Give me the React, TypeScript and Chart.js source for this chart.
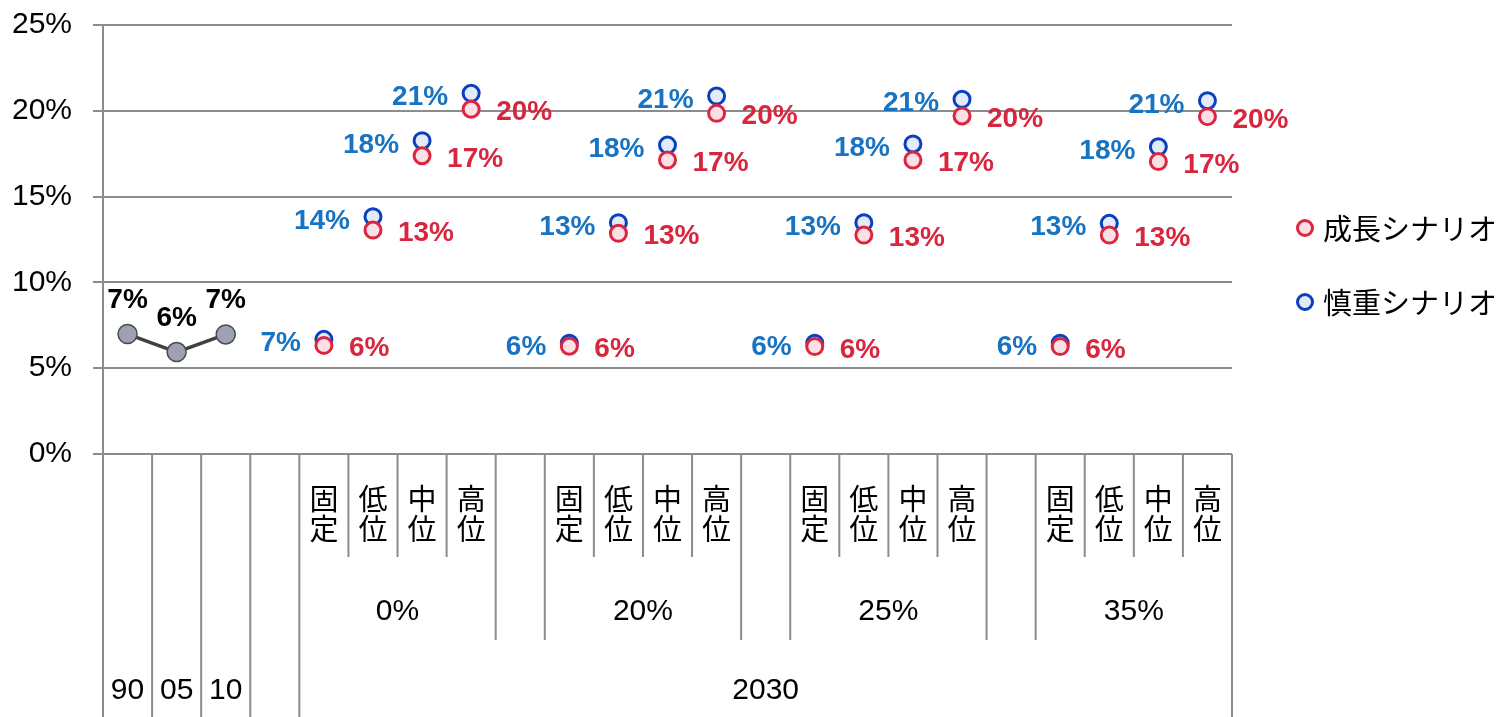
import React, { useEffect, useRef } from "react";
import { Chart, registerables } from "chart.js";

Chart.register(...registerables);

// ---- data ----
const level1 = ["", "", "", "", "固定", "低位", "中位", "高位", "", "固定", "低位", "中位", "高位", "", "固定", "低位", "中位", "高位", "", "固定", "低位", "中位", "高位"];
const level2 = ["", "", "", "", "0%", "0%", "0%", "0%", "", "20%", "20%", "20%", "20%", "", "25%", "25%", "25%", "25%", "", "35%", "35%", "35%", "35%"];
const level3 = ["90", "05", "10", "", "2030", "2030", "2030", "2030", "2030", "2030", "2030", "2030", "2030", "2030", "2030", "2030", "2030", "2030", "2030", "2030", "2030", "2030", "2030"];

const historyValues = [0.0699, 0.0594, 0.0697, null, null, null, null, null, null, null, null, null, null, null, null, null, null, null, null, null, null, null, null];
const growthValues = [null, null, null, null, 0.0633, 0.1305, 0.1738, 0.2009, null, 0.0628, 0.1286, 0.1713, 0.1985, null, 0.0626, 0.1276, 0.1713, 0.1970, null, 0.0626, 0.1276, 0.1704, 0.1966];
const cautiousValues = [null, null, null, null, 0.0668, 0.1383, 0.1826, 0.2102, null, 0.0646, 0.1348, 0.1800, 0.2086, null, 0.0646, 0.1348, 0.1807, 0.2067, null, 0.0646, 0.1344, 0.1790, 0.2059];

const seriesNames = ["成長シナリオ", "慎重シナリオ"];
const yTicks = [0, 0.05, 0.1, 0.15, 0.2, 0.25];

const FONT = '"Liberation Sans", Arial, "Noto Sans CJK JP", sans-serif';
const CJK = '"Noto Sans CJK JP", "Liberation Sans", sans-serif';
const GRID = "#8c8c8c";
const RED = "#dc2540";
const RED_FILL = "#fbe1e6";
const RED_TEXT = "#d8263f";
const BLUE = "#0a3fc0";
const BLUE_FILL = "#e2ecf8";
const BLUE_TEXT = "#1874c2";

const pct = (v: number) => Math.round(v * 100) + "%";

function runs(arr: string[]) {
  const out: { label: string; from: number; to: number }[] = [];
  arr.forEach((l, i) => {
    const last = out[out.length - 1];
    if (last && l !== "" && last.label === l && last.to === i - 1) last.to = i;
    else out.push({ label: l, from: i, to: i });
  });
  return out;
}

const multiAxisPlugin = {
  id: "multiAxis",
  afterDraw(chart: any) {
    const { ctx, chartArea } = chart;
    const xs = chart.scales.x;
    const n = level1.length;
    const w = (chartArea.right - chartArea.left) / n;
    const bx = (k: number) => chartArea.left + k * w;
    const cx = (i: number) => xs.getPixelForValue(i);
    const b = chartArea.bottom;
    const bottom = chart.height;
    ctx.save();
    ctx.strokeStyle = GRID;
    ctx.lineWidth = 2;
    for (let k = 0; k <= n; k++) {
      let end = bottom;
      if (k > 0 && k < n) {
        const a = k - 1, c = k;
        const topDiff = level3[a] !== level3[c] || level3[a] === "" || level3[c] === "";
        const midDiff = level2[a] !== level2[c] || level2[a] === "" || level2[c] === "";
        if (topDiff) end = bottom;
        else if (midDiff) end = b + 186;
        else end = b + 103;
      }
      ctx.beginPath();
      ctx.moveTo(bx(k), b);
      ctx.lineTo(bx(k), end);
      ctx.stroke();
    }
    ctx.fillStyle = "#000";
    ctx.textAlign = "center";
    // level 1 (vertical CJK)
    ctx.font = "29px " + CJK;
    ctx.textBaseline = "middle";
    level1.forEach((l, i) => {
      [...l].forEach((ch, j) => ctx.fillText(ch, cx(i), b + 45 + j * 30));
    });
    // level 2
    ctx.font = "30px " + FONT;
    ctx.textBaseline = "alphabetic";
    runs(level2).forEach((r) => {
      if (!r.label) return;
      ctx.fillText(r.label, (cx(r.from) + cx(r.to)) / 2, b + 155 + 11);
    });
    // level 3
    runs(level3).forEach((r) => {
      if (!r.label) return;
      ctx.fillText(r.label, (cx(r.from) + cx(r.to)) / 2, b + 234 + 11);
    });
    ctx.restore();
  },
};

const labelPlugin = {
  id: "pointLabels",
  afterDatasetsDraw(chart: any) {
    const { ctx } = chart;
    ctx.save();
    ctx.font = "bold 28px " + FONT;
    ctx.textBaseline = "alphabetic";
    chart.data.datasets.forEach((ds: any, di: number) => {
      const meta = chart.getDatasetMeta(di);
      meta.data.forEach((el: any, i: number) => {
        const v = ds.data[i];
        if (v === null || v === undefined) return;
        const txt = pct(v);
        if (ds.labelSide === "right") {
          ctx.fillStyle = RED_TEXT;
          ctx.textAlign = "left";
          ctx.fillText(txt, el.x + 25, el.y + 11);
        } else if (ds.labelSide === "left") {
          ctx.fillStyle = BLUE_TEXT;
          ctx.textAlign = "right";
          ctx.fillText(txt, el.x - 23, el.y + 12);
        } else {
          ctx.fillStyle = "#000";
          ctx.textAlign = "center";
          ctx.fillText(txt, el.x, el.y - 26);
        }
      });
    });
    ctx.restore();
  },
};

const legendPlugin = {
  id: "sideLegend",
  afterDraw(chart: any) {
    const { ctx, chartArea } = chart;
    const items = [
      { name: seriesNames[0], stroke: RED, fill: RED_FILL },
      { name: seriesNames[1], stroke: BLUE, fill: BLUE_FILL },
    ];
    ctx.save();
    items.forEach((it, i) => {
      const y = chartArea.top + 203 + i * 74;
      const x = chartArea.right + 73;
      ctx.beginPath();
      ctx.arc(x, y, 7.5, 0, Math.PI * 2);
      ctx.fillStyle = it.fill;
      ctx.fill();
      ctx.lineWidth = 3;
      ctx.strokeStyle = it.stroke;
      ctx.stroke();
      ctx.fillStyle = "#000";
      ctx.font = "29px " + CJK;
      ctx.textAlign = "left";
      ctx.textBaseline = "middle";
      ctx.fillText(it.name, x + 18, y + 1);
    });
    ctx.restore();
  },
};

export default function App() {
  const ref = useRef<HTMLCanvasElement | null>(null);
  useEffect(() => {
    document.body.style.margin = "0";
    const chart = new Chart(ref.current as HTMLCanvasElement, {
      type: "line",
      data: {
        labels: level1.map((l, i) => level3[i] + level2[i] + l),
        datasets: [
          {
            label: seriesNames[0],
            data: growthValues,
            showLine: false,
            pointRadius: 8,
            pointHoverRadius: 8,
            pointBorderWidth: 3,
            pointBackgroundColor: RED_FILL,
            pointBorderColor: RED,
            borderColor: RED,
            backgroundColor: RED_FILL,
            labelSide: "right",
          } as any,
          {
            label: seriesNames[1],
            data: cautiousValues,
            showLine: false,
            pointRadius: 8,
            pointHoverRadius: 8,
            pointBorderWidth: 3,
            pointBackgroundColor: BLUE_FILL,
            pointBorderColor: BLUE,
            borderColor: BLUE,
            backgroundColor: BLUE_FILL,
            labelSide: "left",
          } as any,
          {
            label: "実績",
            data: historyValues,
            borderColor: "#404040",
            borderWidth: 3.5,
            pointRadius: 9.5,
            pointHoverRadius: 9.5,
            pointBorderWidth: 1.5,
            pointBackgroundColor: "#9ca1b4",
            pointBorderColor: "#4a4a4a",
            spanGaps: false,
            labelSide: "top",
          } as any,
        ],
      },
      options: {
        animation: false,
        responsive: false,
        devicePixelRatio: 1,
        layout: { padding: { left: 0, top: 25, right: 266, bottom: 263 } },
        plugins: { legend: { display: false }, tooltip: { enabled: false } },
        scales: {
          x: { type: "category", display: false, offset: true },
          y: {
            min: 0,
            max: 0.25,
            afterFit: (s: any) => {
              s.width = 103;
              s.paddingTop = 0;
              s.paddingBottom = 0;
            },
            afterBuildTicks: (s: any) => {
              s.ticks = yTicks.map((v) => ({ value: v }));
            },
            ticks: {
              padding: 21,
              color: "#000",
              font: { size: 30, family: FONT },
              callback: (v: any) => pct(Number(v)),
            },
            grid: { color: GRID, lineWidth: 2, tickLength: 10, drawTicks: true },
            border: { color: GRID, width: 2 },
          },
        },
      },
      plugins: [multiAxisPlugin, labelPlugin, legendPlugin],
    });
    return () => chart.destroy();
  }, []);
  return (
    <div style={{ position: "absolute", left: 0, top: 0, width: 1498, height: 717 }}>
      <canvas ref={ref} width={1498} height={717} />
    </div>
  );
}
